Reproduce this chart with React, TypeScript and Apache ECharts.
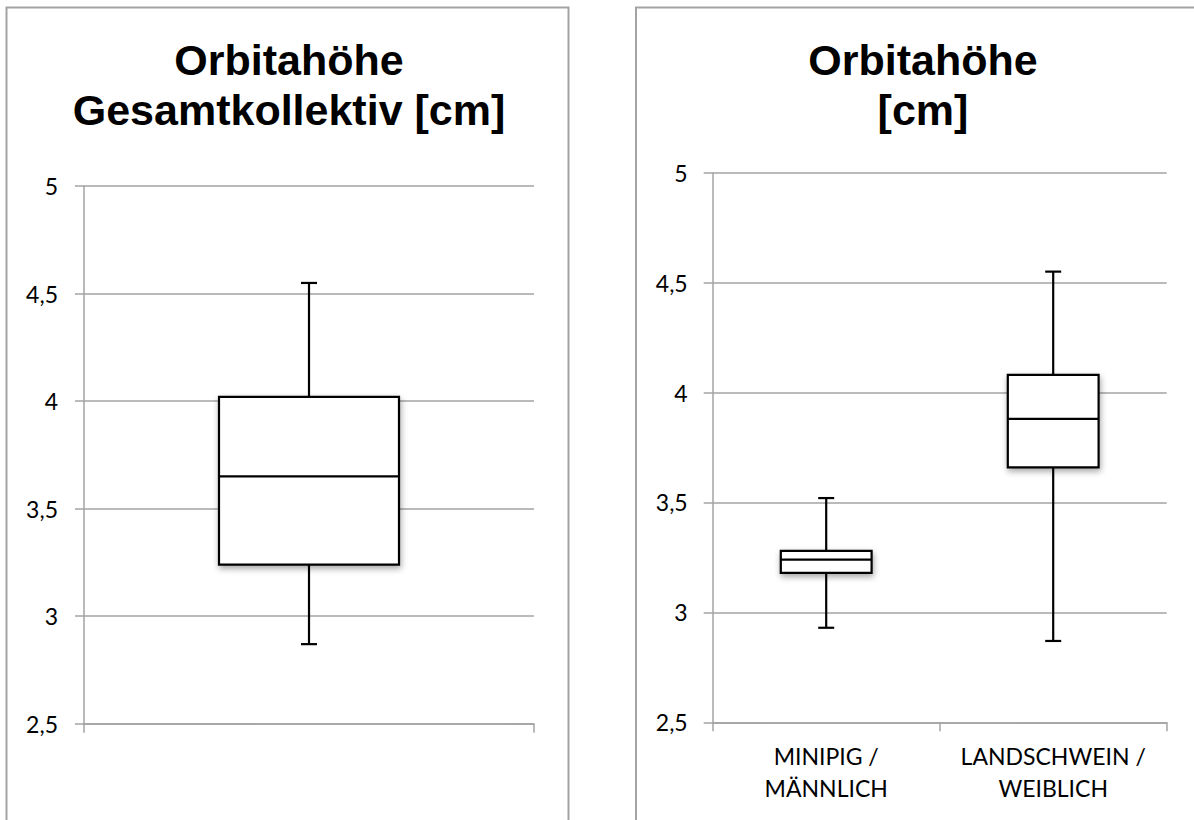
import React, { useEffect, useRef } from "react";
import * as echarts from "echarts";

// ---- Data ----
const categoriesTotal = ["Gesamtkollektiv"];
// [min, Q1, median, Q3, max]
const statsTotal = [2.87, 3.24, 3.65, 4.02, 4.55];

const categoriesGroups = ["MINIPIG /\nMÄNNLICH", "LANDSCHWEIN /\nWEIBLICH"];
const statsMinipig = [2.93, 3.18, 3.24, 3.28, 3.52];
const statsLandschwein = [2.87, 3.66, 3.88, 4.08, 4.55];

const titleLeft = "Orbitahöhe\nGesamtkollektiv [cm]";
const titleRight = "Orbitahöhe\n[cm]";

const yMin = 2.5;
const yMax = 5;
const yStep = 0.5;

const GRAY = "#a3a3a3";
const LABEL_FONT = "Lato, 'Noto Sans', sans-serif";
const TITLE_FONT = "'Liberation Sans', Arial, sans-serif";

function renderBox(params: any, api: any) {
  const c = api.value(0);
  const mn = api.value(1);
  const q1 = api.value(2);
  const md = api.value(3);
  const q3 = api.value(4);
  const mx = api.value(5);
  const pMin = api.coord([c, mn]);
  const pQ1 = api.coord([c, q1]);
  const pMd = api.coord([c, md]);
  const pQ3 = api.coord([c, q3]);
  const pMax = api.coord([c, mx]);
  const band = api.size([1, 0])[0];
  const halfW = band * 0.2;
  const cx = pMin[0];
  const capHalf = 8;
  const ls = { stroke: "#000", lineWidth: 2.2 };
  return {
    type: "group",
    children: [
      { type: "line", shape: { x1: cx, y1: pMax[1], x2: cx, y2: pQ3[1] }, style: ls },
      { type: "line", shape: { x1: cx - capHalf, y1: pMax[1], x2: cx + capHalf, y2: pMax[1] }, style: ls },
      { type: "line", shape: { x1: cx, y1: pQ1[1], x2: cx, y2: pMin[1] }, style: ls },
      { type: "line", shape: { x1: cx - capHalf, y1: pMin[1], x2: cx + capHalf, y2: pMin[1] }, style: ls },
      {
        type: "rect",
        shape: { x: cx - halfW, y: pQ3[1], width: halfW * 2, height: pQ1[1] - pQ3[1] },
        style: {
          fill: "#fff",
          stroke: "#000",
          lineWidth: 2.2,
          shadowBlur: 6,
          shadowOffsetX: 1,
          shadowOffsetY: 3,
          shadowColor: "rgba(0,0,0,0.35)",
        },
      },
      { type: "line", shape: { x1: cx - halfW, y1: pMd[1], x2: cx + halfW, y2: pMd[1] }, style: ls },
    ],
  };
}

const fmt = (v: number) => String(v).replace(".", ",");

function yAxisCfg(gridIndex: number, margin: number) {
  return {
    type: "value",
    gridIndex,
    min: yMin,
    max: yMax,
    interval: yStep,
    axisLine: { show: true, lineStyle: { color: GRAY, width: 1.5 } },
    axisTick: { show: true, length: 9, lineStyle: { color: GRAY, width: 1.5 } },
    splitLine: { show: true, lineStyle: { color: GRAY, width: 1.5 } },
    axisLabel: {
      formatter: fmt,
      margin,
      fontSize: 23,
      fontFamily: LABEL_FONT,
      color: "#000",
    },
  };
}

export default function App() {
  const ref = useRef<HTMLDivElement>(null);
  useEffect(() => {
    if (!ref.current) return;
    const chart = echarts.init(ref.current, undefined, { renderer: "svg" });
    chart.setOption({
      animation: false,
      backgroundColor: "#fff",
      graphic: [
        {
          type: "rect",
          shape: { x: 6.5, y: 7.5, width: 562, height: 840 },
          style: { fill: "none", stroke: GRAY, lineWidth: 2 },
          silent: true,
        },
        {
          type: "rect",
          shape: { x: 636, y: 7.5, width: 600, height: 840 },
          style: { fill: "none", stroke: GRAY, lineWidth: 2 },
          silent: true,
        },
        {
          type: "text",
          x: 289,
          y: 35,
          style: {
            text: titleLeft,
            fontSize: 43,
            fontWeight: "bold",
            fontFamily: TITLE_FONT,
            lineHeight: 50,
            align: "center",
            verticalAlign: "top",
            fill: "#000",
          },
        },
        {
          type: "text",
          x: 923,
          y: 35,
          style: {
            text: titleRight,
            fontSize: 43,
            fontWeight: "bold",
            fontFamily: TITLE_FONT,
            lineHeight: 50,
            align: "center",
            verticalAlign: "top",
            fill: "#000",
          },
        },
      ],
      grid: [
        { left: 84, top: 186.2, width: 450, height: 537.5 },
        { left: 712.7, top: 172.7, width: 454, height: 549.6 },
      ],
      xAxis: [
        {
          type: "category",
          gridIndex: 0,
          data: categoriesTotal,
          boundaryGap: true,
          axisLine: { onZero: false, lineStyle: { color: GRAY, width: 1.5 } },
          axisTick: { show: true, length: 9, alignWithLabel: false, lineStyle: { color: GRAY, width: 1.5 } },
          axisLabel: { show: false },
          splitLine: { show: false },
        },
        {
          type: "category",
          gridIndex: 1,
          data: categoriesGroups,
          boundaryGap: true,
          axisLine: { onZero: false, lineStyle: { color: GRAY, width: 1.5 } },
          axisTick: { show: true, length: 9, alignWithLabel: false, lineStyle: { color: GRAY, width: 1.5 } },
          axisLabel: {
            interval: 0,
            margin: 18,
            fontSize: 23,
            lineHeight: 32,
            fontFamily: LABEL_FONT,
            color: "#000",
          },
          splitLine: { show: false },
        },
      ],
      yAxis: [yAxisCfg(0, 26), yAxisCfg(1, 25)],
      series: [
        {
          type: "custom",
          name: "Gesamtkollektiv",
          coordinateSystem: "cartesian2d",
          xAxisIndex: 0,
          yAxisIndex: 0,
          renderItem: renderBox,
          encode: { x: 0, y: [1, 2, 3, 4, 5] },
          data: [[0, ...statsTotal]],
        },
        {
          type: "custom",
          name: "Gruppen",
          coordinateSystem: "cartesian2d",
          xAxisIndex: 1,
          yAxisIndex: 1,
          renderItem: renderBox,
          encode: { x: 0, y: [1, 2, 3, 4, 5] },
          data: [
            [0, ...statsMinipig],
            [1, ...statsLandschwein],
          ],
        },
      ],
    });
    return () => chart.dispose();
  }, []);
  return (
    <div
      ref={ref}
      style={{ position: "fixed", left: 0, top: 0, width: 1194, height: 820, background: "#fff" }}
    />
  );
}
